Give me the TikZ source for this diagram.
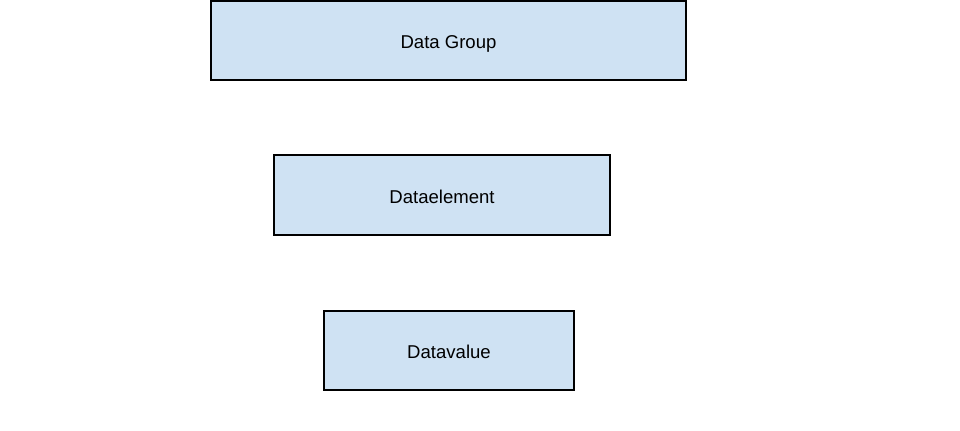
\documentclass[tikz,border=0pt]{standalone}
\usepackage{fontspec}
\setmainfont{Liberation Sans}
\definecolor{boxblue}{HTML}{CFE2F3}
\tikzset{databox/.style={draw=black, fill=boxblue, line width=1.4pt, inner sep=0pt,
    text height=11.5pt, text depth=0pt, font=\fontsize{13.2}{16}\selectfont}}

\begin{document}
\begin{tikzpicture}[x=0.025cm, y=-0.025cm]
    \useasboundingbox (0,0) rectangle (960,431);

    \node[databox, minimum width=475*0.025cm, minimum height=79*0.025cm] (group) at (448.5,40.5) {Data Group};
    \node[databox, minimum width=336*0.025cm, minimum height=80*0.025cm] (element) at (442,195) {Dataelement};
    \node[databox, minimum width=250*0.025cm, minimum height=79*0.025cm] (value) at (449,350.5) {Datavalue};

\end{tikzpicture}
\end{document}
